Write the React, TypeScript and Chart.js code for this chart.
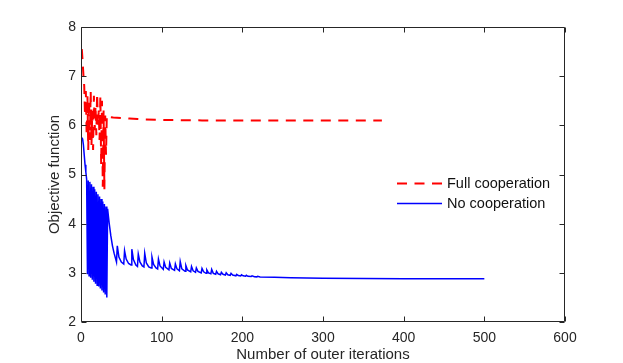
import { useEffect, useRef } from 'react';
import { Chart, registerables } from 'chart.js';

Chart.register(...registerables);

const seriesNames = ['Full cooperation', 'No cooperation'];

const fullIter = [1, 2, 3, 4, 5, 6, 7, 8, 9, 10, 11, 12, 13, 14, 15, 16, 17, 18, 19, 20, 21, 22, 23, 24, 25, 26, 27, 28, 29, 30, 31, 32, 34, 40, 50, 60, 70, 80, 100, 150, 250, 373];
const fullObj = [7.55, 7.3, 7.02, 6.8, 6.2, 6.7, 5.8, 6.6, 5.5, 6.5, 5.7, 6.7, 5.6, 6.3, 5.5, 6.6, 5.9, 6.4, 5.8, 6.65, 6.0, 6.3, 5.7, 6.6, 5.2, 6.5, 4.75, 6.3, 4.7, 6.2, 5.4, 6.2, 6.17, 6.16, 6.15, 6.14, 6.13, 6.12, 6.11, 6.1, 6.1, 6.1];

const noIter = [
  1, 2, 3, 4, 5, 6, 7,
  8, 9, 10, 11, 12, 13, 14, 15, 16, 17, 18, 19, 20, 21, 22, 23, 24, 25, 26, 27, 28, 29, 30, 31, 32, 33,
  34, 35, 37, 39, 41, 44,
  45, 47, 50, 53,
  54, 56, 59, 62,
  63, 65, 68, 70,
  71, 73, 76, 78,
  79, 81, 84, 87,
  88, 90, 93, 95,
  96, 98, 102,
  103, 105, 109,
  110, 112, 116,
  117, 119, 122,
  123, 125, 129,
  130, 132, 136,
  137, 139, 142,
  143, 145, 149,
  150, 152, 155,
  156, 158, 161,
  162, 164, 167,
  168, 170, 173,
  174, 176, 179,
  180, 182, 185,
  186, 188, 192,
  193, 195, 198,
  199, 201, 204,
  205, 207, 211,
  212, 215, 218,
  219, 222, 240, 260, 280, 300, 350, 400, 450, 500,
];
const noObj = [
  5.75, 5.72, 5.6, 5.4, 5.2, 5.05, 4.9,
  2.97, 4.88, 2.94, 4.85, 2.9, 4.8, 2.86, 4.75, 2.82, 4.7, 2.78, 4.65, 2.75, 4.6, 2.72, 4.55, 2.68, 4.5, 2.64, 4.45, 2.6, 4.4, 2.56, 4.35, 2.5, 4.3,
  4.15, 4.0, 3.75, 3.55, 3.4, 3.22,
  3.55, 3.32, 3.22, 3.18,
  3.45, 3.28, 3.19, 3.16,
  3.48, 3.27, 3.16, 3.13,
  3.38, 3.22, 3.14, 3.12,
  3.4, 3.2, 3.12, 3.1,
  3.32, 3.17, 3.1, 3.08,
  3.28, 3.14, 3.07,
  3.22, 3.11, 3.06,
  3.2, 3.09, 3.05,
  3.18, 3.08, 3.04,
  3.23, 3.08, 3.03,
  3.15, 3.06, 3.02,
  3.13, 3.04, 3.01,
  3.1, 3.03, 3.0,
  3.09, 3.02, 2.99,
  3.06, 3.0, 2.98,
  3.07, 2.99, 2.97,
  3.03, 2.98, 2.96,
  3.01, 2.97, 2.955,
  3.0, 2.96, 2.95,
  2.99, 2.955, 2.94,
  2.97, 2.945, 2.935,
  2.96, 2.94, 2.93,
  2.95, 2.93, 2.925,
  2.94, 2.92, 2.918,
  2.93, 2.915, 2.91, 2.9, 2.895, 2.89, 2.885, 2.882, 2.88, 2.88,
];

const xTicks = [0, 100, 200, 300, 400, 500, 600];
const yTicks = [2, 3, 4, 5, 6, 7, 8];

const AXIS_COLOR = '#262626';
const FONT = '"Liberation Sans", Arial, Helvetica, sans-serif';

const framePlugin = {
  id: 'matlabFrame',
  afterDraw(chart: any) {
    const { ctx, chartArea: a, scales } = chart;
    const L = Math.round(a.left) + 0.5;
    const R = Math.round(a.right) - 0.5;
    const T = Math.round(a.top) + 0.5;
    const B = Math.round(a.bottom) - 0.5;
    ctx.save();
    ctx.strokeStyle = AXIS_COLOR;
    ctx.lineWidth = 1;
    ctx.beginPath();
    ctx.rect(L, T, R - L, B - T);
    const tl = 5;
    xTicks.forEach((v) => {
      const px = Math.round(scales.x.getPixelForValue(v)) + 0.5;
      ctx.moveTo(px, B);
      ctx.lineTo(px, B - tl);
      ctx.moveTo(px, T);
      ctx.lineTo(px, T + tl);
    });
    yTicks.forEach((v) => {
      const py = Math.round(scales.y.getPixelForValue(v)) + 0.5;
      ctx.moveTo(L, py);
      ctx.lineTo(L + tl, py);
      ctx.moveTo(R, py);
      ctx.lineTo(R - tl, py);
    });
    ctx.stroke();

    // legend
    const entries = chart.data.datasets;
    const x0 = 397;
    const x1 = 442;
    const ys = [183.5, 203.5];
    ctx.font = '14.5px ' + FONT;
    ctx.textBaseline = 'middle';
    ctx.textAlign = 'left';
    entries.forEach((ds: any, i: number) => {
      ctx.beginPath();
      ctx.strokeStyle = ds.borderColor;
      ctx.lineWidth = ds.borderWidth;
      ctx.setLineDash(ds.borderDash || []);
      ctx.moveTo(x0, ys[i]);
      ctx.lineTo(x1, ys[i]);
      ctx.stroke();
      ctx.setLineDash([]);
      ctx.fillStyle = '#111';
      ctx.fillText(ds.label, 447, ys[i] + 0.5);
    });
    ctx.restore();
  },
};

export default function App() {
  const ref = useRef<HTMLCanvasElement | null>(null);

  useEffect(() => {
    if (!ref.current) return;
    const full = fullIter.map((x, i) => ({ x, y: fullObj[i] }));
    const none = noIter.map((x, i) => ({ x, y: noObj[i] }));
    const chart = new Chart(ref.current, {
      type: 'line',
      data: {
        datasets: [
          {
            label: seriesNames[0],
            data: full,
            borderColor: '#ff0000',
            borderWidth: 2,
            borderDash: [10, 7.5],
            pointRadius: 0,
            tension: 0,
            fill: false,
            order: 0,
          },
          {
            label: seriesNames[1],
            data: none,
            borderColor: '#0000ff',
            borderWidth: 1.5,
            pointRadius: 0,
            tension: 0,
            fill: false,
            order: 1,
          },
        ],
      },
      options: {
        responsive: false,
        animation: false,
        devicePixelRatio: 1,
        layout: { padding: { left: 0, top: 27, right: 58, bottom: 0 } },
        plugins: {
          legend: { display: false },
          tooltip: { enabled: false },
        },
        scales: {
          x: {
            type: 'linear',
            min: 0,
            max: 600,
            afterFit: (s: any) => {
              s.height = 41;
            },
            afterBuildTicks: (s: any) => {
              s.ticks = xTicks.map((v) => ({ value: v }));
            },
            grid: { display: false, drawTicks: false },
            border: { display: false },
            ticks: {
              padding: 8,
              color: AXIS_COLOR,
              font: { family: FONT, size: 14 },
              maxRotation: 0,
              autoSkip: false,
            },
            title: {
              display: true,
              text: 'Number of outer iterations',
              color: AXIS_COLOR,
              font: { family: FONT, size: 15, lineHeight: 1 },
              padding: { top: 0, bottom: 1 },
            },
          },
          y: {
            type: 'linear',
            min: 2,
            max: 8,
            afterFit: (s: any) => {
              s.width = 81;
            },
            afterBuildTicks: (s: any) => {
              s.ticks = yTicks.map((v) => ({ value: v }));
            },
            grid: { display: false, drawTicks: false },
            border: { display: false },
            ticks: {
              padding: 5,
              color: AXIS_COLOR,
              font: { family: FONT, size: 14 },
              autoSkip: false,
            },
            title: {
              display: true,
              text: 'Objective function',
              color: AXIS_COLOR,
              font: { family: FONT, size: 15, lineHeight: 1 },
              padding: { top: 47, bottom: 0 },
            },
          },
        },
      },
      plugins: [framePlugin],
    });
    return () => chart.destroy();
  }, []);

  return (
    <div style={{ position: 'fixed', left: 0, top: 0, width: 623, height: 363, background: '#fff' }}>
      <canvas ref={ref} width={623} height={363} style={{ display: 'block' }} />
    </div>
  );
}
